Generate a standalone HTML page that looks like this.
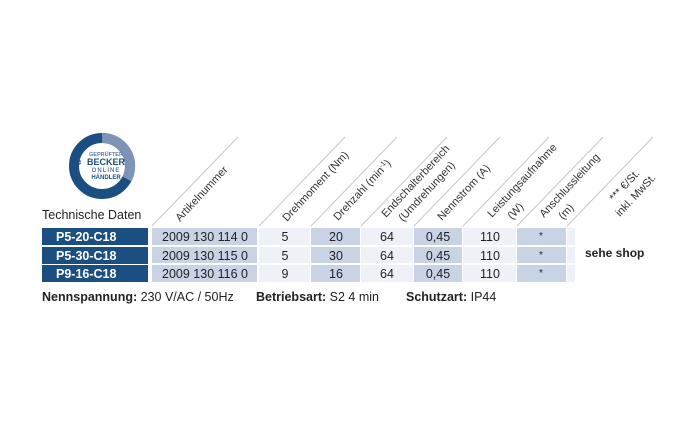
<!DOCTYPE html>
<html><head><meta charset="utf-8"><style>
html,body{margin:0;padding:0;background:#fff;}
svg{display:block;font-family:"Liberation Sans",Arial,sans-serif;}
</style></head><body>
<svg width="700" height="438" viewBox="0 0 700 438" xmlns="http://www.w3.org/2000/svg">
<rect width="700" height="438" fill="#fff"/>
<!-- logo -->
<circle cx="102" cy="166" r="28" fill="none" stroke="#1b4f81" stroke-width="10"/>
<path d="M102 138 A28 28 0 0 1 127 179" fill="none" stroke="#7e93b6" stroke-width="10"/>
<g font-weight="bold" text-anchor="middle" fill="#5a79a8">
<text x="106" y="156" font-size="5.5">GEPRÜFTER</text>
<text x="106" y="165" font-size="9" fill="#1b4f81">BECKER</text>
<text x="106" y="172" font-size="6" letter-spacing="1">ONLINE</text>
<text x="106" y="179" font-size="6" fill="#1b4f81">HÄNDLER</text>
</g>
<text x="78" y="166" font-size="10" fill="#1b4f81" text-anchor="middle">❄</text>
<text x="42" y="219" font-size="12.5" fill="#222">Technische Daten</text>
<!-- diagonal lines -->
<g stroke="#c8c8c8" stroke-width="1">
<line x1="152" y1="226" x2="238" y2="137"/>
<line x1="259" y1="226" x2="345" y2="137"/>
<line x1="311" y1="226" x2="397" y2="137"/>
<line x1="361" y1="226" x2="447" y2="137"/>
<line x1="414" y1="226" x2="500" y2="137"/>
<line x1="463" y1="226" x2="549" y2="137"/>
<line x1="517" y1="226" x2="603" y2="137"/>
<line x1="567" y1="226" x2="653" y2="137"/>
</g>
<!-- header texts -->
<g font-size="11" fill="#333">
<text transform="translate(180,222) rotate(-47)">Artikelnummer</text>
<text transform="translate(287,222) rotate(-47)">Drehmoment (Nm)</text>
<text transform="translate(338,221) rotate(-47)">Drehzahl (min<tspan font-size="7" dy="-4">-1</tspan><tspan dy="4">)</tspan></text>
<text transform="translate(386,218) rotate(-47)">Endschalterbereich</text>
<text transform="translate(403,222) rotate(-47)">(Umdrehungen)</text>
<text transform="translate(442,221) rotate(-47)">Nennstrom (A)</text>
<text transform="translate(492,218) rotate(-47)">Leistungsaufnahme</text>
<text transform="translate(512,220) rotate(-47)">(W)</text>
<text transform="translate(544,218) rotate(-47)">Anschlussleitung</text>
<text transform="translate(563,220) rotate(-47)">(m)</text>
<text transform="translate(614,202) rotate(-47)">*** €/St.</text>
<text transform="translate(620,217) rotate(-47)">inkl. MwSt.</text>
</g>
<!-- rows -->
<g>
<rect x="42" y="228" width="106" height="17" fill="#1b4f81"/>
<rect x="42" y="247" width="106" height="17" fill="#1b4f81"/>
<rect x="42" y="265" width="106" height="17" fill="#1b4f81"/>
<g fill="#c9d3e6">
<rect x="152" y="228" width="105" height="54"/>
<rect x="311" y="228" width="49" height="54"/>
<rect x="414" y="228" width="48" height="54"/>
<rect x="517" y="228" width="49" height="54"/>
</g>
<g fill="#eef2f8">
<rect x="259" y="228" width="51" height="54"/>
<rect x="361" y="228" width="52" height="54"/>
<rect x="463" y="228" width="53" height="54"/>
<rect x="567" y="228" width="8" height="54"/>
</g>
<g stroke="#fff" stroke-width="2">
<line x1="150" y1="246" x2="576" y2="246"/>
<line x1="150" y1="264" x2="576" y2="264"/>
</g>
</g>
<g font-size="12.5" font-weight="bold" fill="#fff">
<text x="56" y="241">P5-20-C18</text>
<text x="56" y="260">P5-30-C18</text>
<text x="56" y="278">P9-16-C18</text>
</g>
<g font-size="12.5" fill="#222" text-anchor="middle">
<text x="205" y="241">2009 130 114 0</text>
<text x="205" y="260">2009 130 115 0</text>
<text x="205" y="278">2009 130 116 0</text>
<text x="285" y="241">5</text><text x="285" y="260">5</text><text x="285" y="278">9</text>
<text x="336" y="241">20</text><text x="336" y="260">30</text><text x="336" y="278">16</text>
<text x="387" y="241">64</text><text x="387" y="260">64</text><text x="387" y="278">64</text>
<text x="438" y="241">0,45</text><text x="438" y="260">0,45</text><text x="438" y="278">0,45</text>
<text x="490" y="241">110</text><text x="490" y="260">110</text><text x="490" y="278">110</text>
<text x="541" y="239" font-size="10">*</text><text x="541" y="258" font-size="10">*</text><text x="541" y="276" font-size="10">*</text>
</g>
<text x="585" y="257" font-size="12" font-weight="bold" fill="#222">sehe shop</text>
<text x="42" y="301" font-size="12.5" fill="#222"><tspan font-weight="bold">Nennspannung:</tspan> 230 V/AC / 50Hz</text>
<text x="256" y="301" font-size="12.5" fill="#222"><tspan font-weight="bold">Betriebsart:</tspan> S2 4 min</text>
<text x="406" y="301" font-size="12.5" fill="#222"><tspan font-weight="bold">Schutzart:</tspan> IP44</text>
</svg>
</body></html>
